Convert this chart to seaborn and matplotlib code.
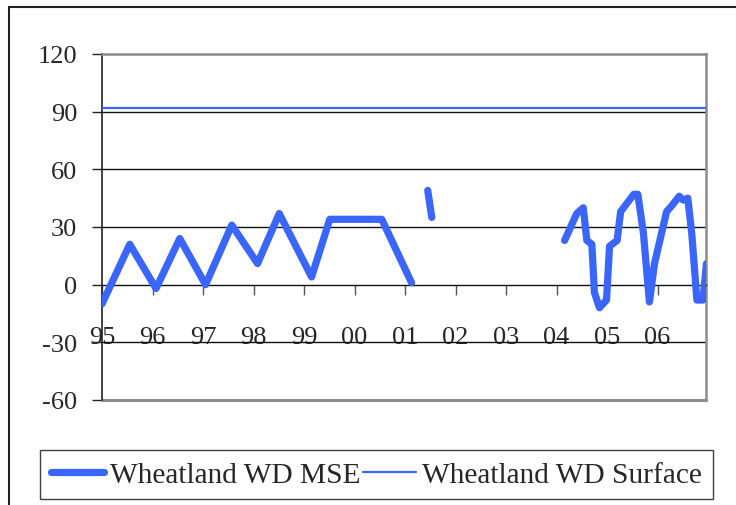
import numpy as np
import pandas as pd
import seaborn as sns
import matplotlib
matplotlib.use("Agg")
import matplotlib.pyplot as plt
from matplotlib.lines import Line2D
from matplotlib.patches import Rectangle

# ---- data (decimal years) ----
mse_years_1 = [1995.0, 1995.55, 1996.07, 1996.54, 1997.05, 1997.57, 1998.08,
               1998.51, 1999.15, 1999.51, 2000.0, 2000.54, 2001.13]
mse_vals_1 = [-10, 21, -2, 24, 0, 31, 11, 37, 4, 34, 34, 34, 1]

mse_years_2 = [2001.45, 2001.53]
mse_vals_2 = [49, 35]

mse_years_3 = [2004.16, 2004.40, 2004.53, 2004.60, 2004.70, 2004.75, 2004.85,
               2004.99, 2005.05, 2005.20, 2005.27, 2005.53, 2005.61, 2005.72,
               2005.84, 2005.94, 2006.02, 2006.18, 2006.28, 2006.43, 2006.51,
               2006.60, 2006.68, 2006.78, 2006.90, 2006.97]
mse_vals_3 = [23, 37, 40, 23, 21, -4, -12, -8, 20, 23, 38, 47, 47, 27,
              -9, 11, 20, 38, 41, 46, 44, 45, 26, -8, -8, 11]

surface_years = [1995.0, 2006.96]
surface_vals = [92, 92]

tick_years = list(range(1995, 2007))
tick_labels = ["95", "96", "97", "98", "99", "00", "01", "02", "03", "04", "05", "06"]
y_ticks = [-60, -30, 0, 30, 60, 90, 120]

label_mse = "Wheatland WD MSE"
label_surface = "Wheatland WD Surface"

# ---- build table ----
mse = pd.concat([
    pd.DataFrame({"year": mse_years_1, "value": mse_vals_1, "seg": 1}),
    pd.DataFrame({"year": mse_years_2, "value": mse_vals_2, "seg": 2}),
    pd.DataFrame({"year": mse_years_3, "value": mse_vals_3, "seg": 3}),
], ignore_index=True)
surf = pd.DataFrame({"year": surface_years, "value": surface_vals})

sns.set_style("white")
plt.rcParams["font.family"] = ["Liberation Serif", "DejaVu Serif"]

BLUE = "#3A66FF"

fig = plt.figure(figsize=(7.36, 5.06), dpi=100)
ax = fig.add_axes([102/736, 1-401/506, (706-102)/736, (401-55)/506])

# outer chart border
fig.patches.append(Rectangle((9/736, -0.2), 1.2, 1.2 - 8/506,
                             transform=fig.transFigure, fill=False,
                             edgecolor="#222222", linewidth=1.5, zorder=0))

# gridlines
for v in [-30, 30, 60, 90]:
    ax.axhline(v, color="#111111", linewidth=1.0, zorder=1)

sns.lineplot(data=surf, x="year", y="value", ax=ax, color=BLUE,
             linewidth=1.6, zorder=3)
sns.lineplot(data=mse, x="year", y="value", units="seg", estimator=None,
             ax=ax, color=BLUE, linewidth=5.2, zorder=4,
             solid_capstyle="round", solid_joinstyle="round")

ax.set_xlim(1995.0, 2006.96)
ax.set_ylim(-60, 120)
ax.set_xlabel("")
ax.set_ylabel("")

# spines
for s in ["top", "right"]:
    ax.spines[s].set_color("#8c8c8c")
    ax.spines[s].set_linewidth(1.8)
ax.spines["left"].set_color("#222222")
ax.spines["left"].set_linewidth(1.2)
ax.spines["bottom"].set_position(("data", 0))
ax.spines["bottom"].set_color("#111111")
ax.spines["bottom"].set_linewidth(1.0)
ax.axhline(-60, color="#8c8c8c", linewidth=2.2, zorder=2, clip_on=False)

ax.set_yticks(y_ticks)
ax.set_yticklabels([str(v) for v in y_ticks])
ax.set_xticks(tick_years)
ax.set_xticklabels(tick_labels)
ax.tick_params(axis="y", direction="out", length=7, width=1.0, color="#222222",
               pad=11, labelsize=19, left=True)
ax.tick_params(axis="x", direction="out", length=7, width=1.0, color="#555555",
               pad=23, labelsize=19, bottom=True)

handles = [Line2D([0], [0], color=BLUE, linewidth=5.2, solid_capstyle="round"),
           Line2D([0], [0], color=BLUE, linewidth=1.6)]
leg = fig.legend(handles, [label_mse, label_surface], ncol=2,
                 loc="center", bbox_to_anchor=(376.5/736, 1-475.5/506),
                 frameon=True, fancybox=False, fontsize=21.2,
                 handlelength=1.8, handletextpad=0.2, columnspacing=0.1,
                 borderpad=0.38, borderaxespad=0)
leg.get_frame().set_edgecolor("#111111")
leg.get_frame().set_linewidth(1.0)

fig.savefig("out.png", dpi=100)
